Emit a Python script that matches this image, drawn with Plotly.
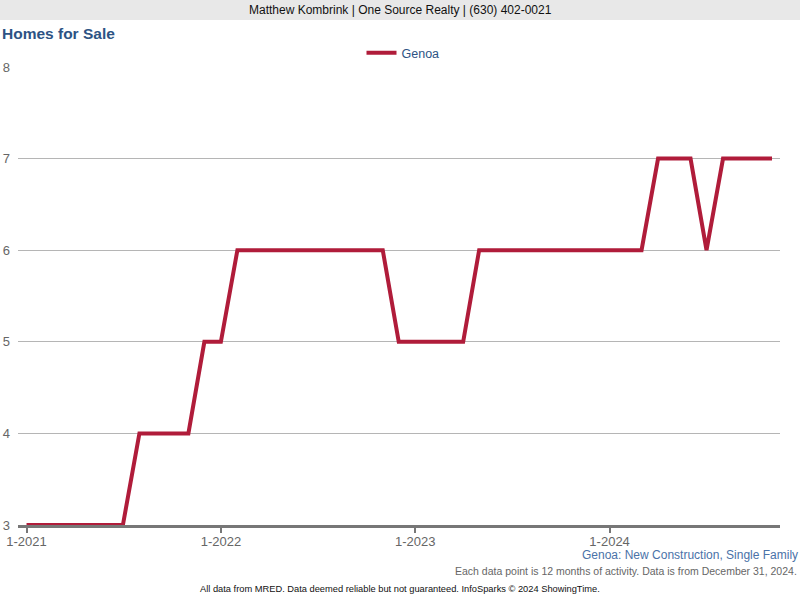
import plotly.graph_objects as go

months = [f"{y}-{m:02d}-01" for y in range(2021, 2025) for m in range(1, 13)][:47]
genoa = [3, 3, 3, 3, 3, 3, 3, 4, 4, 4, 4, 5,
         5, 6, 6, 6, 6, 6, 6, 6, 6, 6, 6, 5,
         5, 5, 5, 5, 6, 6, 6, 6, 6, 6, 6, 6,
         6, 6, 6, 7, 7, 7, 6, 7, 7, 7, 7]
tick_vals = ["2021-01-01", "2022-01-01", "2023-01-01", "2024-01-01"]
tick_text = ["1-2021", "1-2022", "1-2023", "1-2024"]
y_ticks = [3, 4, 5, 6, 7, 8]

FONT = "Liberation Sans, Arial, sans-serif"
L, R, T, B = 18, 20, 67, 75
W, H = 800, 600
PW, PH = W - L - R, H - T - B

def px_x(x):
    return (x - L) / PW

def px_y(y):
    return 1 - (y - T) / PH

fig = go.Figure()
fig.add_trace(go.Scatter(
    x=months, y=genoa, mode="lines", name="Genoa",
    line=dict(color="#b01c3a", width=4),
))

fig.update_layout(
    width=W, height=H,
    margin=dict(l=L, r=R, t=T, b=B, autoexpand=False),
    paper_bgcolor="white", plot_bgcolor="white",
    font=dict(family=FONT, size=12, color="#666"),
    showlegend=True,
    legend=dict(orientation="h", x=px_x(403), xanchor="center",
                y=px_y(53), yanchor="middle",
                font=dict(size=12.5, color="#2d5384", family=FONT),
                bgcolor="rgba(0,0,0,0)"),
    xaxis=dict(type="date", range=["2020-12-16", "2024-11-16"],
               tickvals=tick_vals, ticktext=tick_text, automargin=False,
               showgrid=False, showline=True, linecolor="#777", linewidth=3,
               ticks="outside", ticklen=5, tickcolor="#777", tickwidth=2,
               tickfont=dict(size=13, color="#666"), zeroline=False,
               ticklabelstandoff=-3),
    yaxis=dict(range=[3, 8], tickvals=y_ticks, showgrid=True, automargin=False,
               gridcolor="#b5b5b5", gridwidth=1, showline=False,
               zeroline=False, ticks="", tickfont=dict(size=13, color="#666"),
               ticklabelstandoff=7),
)

fig.add_shape(type="rect", xref="paper", yref="paper",
              x0=px_x(0), x1=px_x(W), y0=px_y(20), y1=px_y(0),
              fillcolor="#e8e8e8", line=dict(width=0), layer="below")

fig.add_annotation(text="Matthew Kombrink | One Source Realty | (630) 402-0021",
                   xref="paper", yref="paper", x=px_x(400), y=px_y(10),
                   xanchor="center", yanchor="middle", showarrow=False,
                   font=dict(size=12, color="#111", family=FONT))
fig.add_annotation(text="<b>Homes for Sale</b>",
                   xref="paper", yref="paper", x=px_x(0), y=px_y(34),
                   xanchor="left", yanchor="middle", showarrow=False,
                   font=dict(size=15.5, color="#2d5384", family=FONT))
fig.add_annotation(text="Genoa: New Construction, Single Family",
                   xref="paper", yref="paper", x=px_x(800), y=px_y(555),
                   xanchor="right", yanchor="middle", showarrow=False,
                   font=dict(size=12, color="#4a72a8", family=FONT))
fig.add_annotation(text="Each data point is 12 months of activity. Data is from December 31, 2024.",
                   xref="paper", yref="paper", x=px_x(799), y=px_y(571),
                   xanchor="right", yanchor="middle", showarrow=False,
                   font=dict(size=10.5, color="#666", family=FONT))
fig.add_annotation(text="All data from MRED. Data deemed reliable but not guaranteed. InfoSparks © 2024 ShowingTime.",
                   xref="paper", yref="paper", x=px_x(400), y=px_y(589),
                   xanchor="center", yanchor="middle", showarrow=False,
                   font=dict(size=9.3, color="#111", family=FONT))

fig.write_html("out.html", config={"displayModeBar": False},
               post_script="document.body.style.margin='0';document.body.style.overflow='hidden';")
